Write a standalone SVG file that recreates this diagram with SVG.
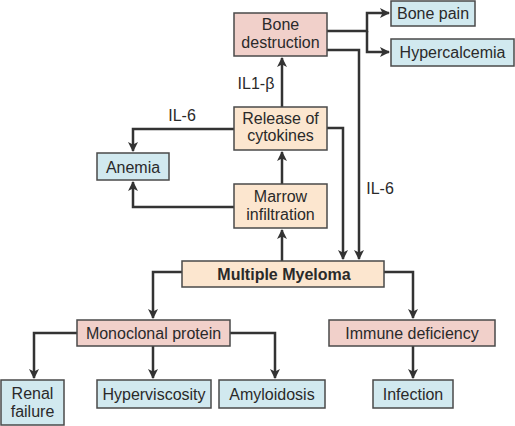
<svg xmlns="http://www.w3.org/2000/svg" width="515" height="426" viewBox="0 0 515 426">
<defs>
<style>
.box{stroke:#4a4a4a;stroke-width:1.5}
.pink{fill:#f1d0ca}
.peach{fill:#fce6cf}
.blue{fill:#d1e9ef}
text{font-family:"Liberation Sans",Arial,sans-serif;font-size:16px;fill:#2a2a2a;text-anchor:middle}
.b{font-weight:bold}
.conn{fill:none;stroke:#333;stroke-width:2.5}
</style>
<marker id="ah" viewBox="0 0 10 10" refX="9" refY="5" markerWidth="4" markerHeight="4" orient="auto" markerUnits="strokeWidth">
<path d="M0,0 L10,5 L0,10 L2.5,5 Z" fill="#333"/>
</marker>
</defs>
<rect width="515" height="426" fill="#ffffff"/>
<g id="connectors">
<path class="conn" d="M327,31 H367 V13 H389" marker-end="url(#ah)"/>
<path class="conn" d="M367,31 V52 H389" marker-end="url(#ah)"/>
<path class="conn" d="M327,50 H359 V259" marker-end="url(#ah)"/>
<path class="conn" d="M327,128 H343 V259" marker-end="url(#ah)"/>
<path class="conn" d="M282,107 V58" marker-end="url(#ah)"/>
<path class="conn" d="M234,129 H133 V151" marker-end="url(#ah)"/>
<path class="conn" d="M234,207 H133 V182" marker-end="url(#ah)"/>
<path class="conn" d="M282,184 V152" marker-end="url(#ah)"/>
<path class="conn" d="M282,261 V230" marker-end="url(#ah)"/>
<path class="conn" d="M182,272 H153 V318" marker-end="url(#ah)"/>
<path class="conn" d="M384,272 H413 V318" marker-end="url(#ah)"/>
<path class="conn" d="M77,333 H34 V378" marker-end="url(#ah)"/>
<path class="conn" d="M153,346 V378" marker-end="url(#ah)"/>
<path class="conn" d="M230,333 H275 V378" marker-end="url(#ah)"/>
<path class="conn" d="M413,346 V378" marker-end="url(#ah)"/>
<text x="256" y="89">IL1-β</text>
<text x="182" y="121">IL-6</text>
<text x="380" y="194">IL-6</text>
</g>
<g id="bone-destruction"><rect class="box pink" x="234" y="13" width="93" height="43"/><text x="280.5" y="30">Bone</text><text x="280.5" y="48">destruction</text></g>
<g id="bone-pain"><rect class="box blue" x="391" y="1" width="84" height="25"/><text x="433" y="19">Bone pain</text></g>
<g id="hypercalcemia"><rect class="box blue" x="391" y="39" width="123" height="27"/><text x="452.5" y="58">Hypercalcemia</text></g>
<g id="release-cytokines"><rect class="box peach" x="234" y="107" width="93" height="43"/><text x="280.5" y="124">Release of</text><text x="280.5" y="141">cytokines</text></g>
<g id="anemia"><rect class="box blue" x="97" y="153" width="72" height="27"/><text x="133" y="173">Anemia</text></g>
<g id="marrow-infiltration"><rect class="box peach" x="234" y="184" width="93" height="44"/><text x="280.5" y="202">Marrow</text><text x="280.5" y="220">infiltration</text></g>
<g id="multiple-myeloma"><rect class="box peach" x="182" y="261" width="202" height="26"/><text class="b" x="284" y="279.5">Multiple Myeloma</text></g>
<g id="monoclonal-protein"><rect class="box pink" x="77" y="320" width="153" height="26"/><text x="153.5" y="338.5">Monoclonal protein</text></g>
<g id="immune-deficiency"><rect class="box pink" x="329" y="320" width="166" height="26"/><text x="412" y="338.5">Immune deficiency</text></g>
<g id="renal-failure"><rect class="box blue" x="1" y="380" width="63" height="45"/><text x="32.5" y="399">Renal</text><text x="32.5" y="417">failure</text></g>
<g id="hyperviscosity"><rect class="box blue" x="97" y="380" width="114" height="28"/><text x="154" y="399.5">Hyperviscosity</text></g>
<g id="amyloidosis"><rect class="box blue" x="219" y="380" width="106" height="28"/><text x="272" y="399.5">Amyloidosis</text></g>
<g id="infection"><rect class="box blue" x="373" y="380" width="80" height="28"/><text x="413" y="399.5">Infection</text></g>
</svg>
